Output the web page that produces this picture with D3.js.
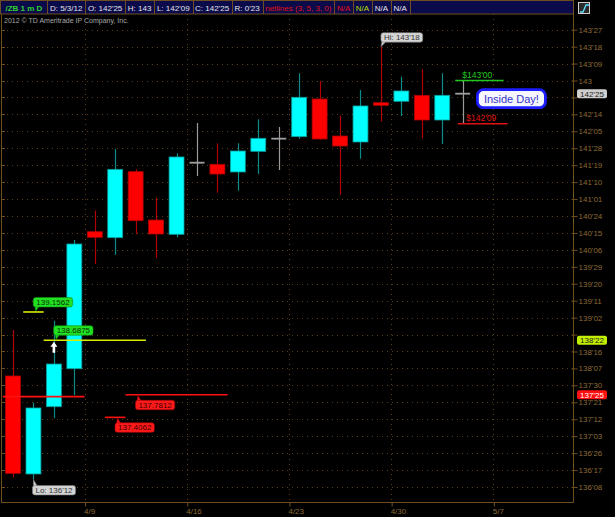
<!DOCTYPE html>
<html><head><meta charset="utf-8">
<script src="https://cdn.jsdelivr.net/npm/d3@7"></script>
<style>
body{margin:0;background:#000;overflow:hidden}
svg{display:block}
text{font-family:"Liberation Sans",Arial,sans-serif}
</style>
</head><body><svg id="c" width="615" height="517"></svg>
<script>
// ---------- DATA ----------
const dates   = ["4/3","4/4","4/5","4/6","4/9","4/10","4/11","4/12","4/13","4/16","4/17","4/18","4/19","4/20","4/23","4/24","4/25","4/26","4/27","4/30","5/1","5/2","5/3"];
const futureDates = ["5/4","5/7","5/8","5/9","5/10"];
const opens  = [138.093,136.466,137.583,138.214,140.489,140.390,141.486,140.683,140.446,141.635,141.608,141.481,141.824,142.034,142.067,142.693,142.078,141.979,142.631,142.655,142.754,142.344,142.78125];
const highs  = [138.857,137.650,139.011,140.351,140.838,141.863,141.525,141.054,141.791,142.294,141.957,141.957,142.356,142.228,143.120,142.992,142.415,142.842,143.5625,143.063,143.186,143.120,143.000];
const lows   = [136.416,136.375,137.391,137.773,139.953,140.107,140.451,140.052,140.396,141.414,141.137,141.170,141.447,141.514,142.034,142.020,141.104,141.701,142.316,142.410,142.040,141.946,142.28125];
const closes = [136.477,137.562,138.292,140.285,140.396,141.525,140.672,140.451,141.730,141.635,141.447,141.829,142.040,142.034,142.721,142.029,141.912,142.577,142.588,142.826,142.344,142.754,142.78125];

const weekTicks = ["4/9","4/16","4/23","4/30","5/7"];
const yTickLabels = ["136'08","136'17","136'26","137'03","137'12","137'21","137'30","138'07","138'16","138'25","139'02","139'11","139'20","139'29","140'06","140'15","140'24","141'01","141'10","141'19","141'28","142'05","142'14","142'23","143","143'09","143'18","143'27"];

const headerTexts  = ["/ZB 1 m D","D: 5/3/12","O: 142'25","H: 143","L: 142'09","C: 142'25","R: 0'23","netlines (3, 5, 3, 0)","N/A","N/A","N/A","N/A"];
const headerColors = ["#2fd12f","#e4e4e4","#e4e4e4","#e4e4e4","#e4e4e4","#e4e4e4","#e4e4e4","#e01010","#e01010","#b8dc00","#e4e4e4","#e4e4e4"];

// buy (green) study levels
const buyLevels = [139.1562, 138.6875];
const buyFrom   = ["4/4","4/5"];
const buyTo     = ["4/4","4/11"];
// sell (red) study levels
const sellLevels = [137.7812, 137.4062];
const sellFrom   = ["4/11","4/10"];
const sellTo     = ["4/17","4/10"];
const extraRedLevel = [137.75]; const extraRedFrom = ["4/3"]; const extraRedTo = ["4/6"];
const signalDates = ["4/5"]; const signalLevels = [138.6875];

// inside day
const insideHigh = 143.0, insideLow = 142.28125;
const insideFrom = "5/3", insideTo = "5/7";
const insideText = "Inside Day!";

// axis price markers
const markerPrices = [142.78125, 138.6875, 137.78125];
const markerFills  = ["#cfcfcf", "#c2ee00", "#ff1010"];
const markerText   = ["#222", "#222", "#fff"];

// ---------- HELPERS ----------
function fmt(p){
  const i = Math.floor(p + 1e-9);
  const t = Math.round((p - i) * 32);
  return t ? i + "'" + String(t).padStart(2, "0") : String(i);
}
function parse32(s){
  const [a,b] = s.split("'");
  return +a + (b ? +b/32 : 0);
}

const svg = d3.select("#c");
const plotL = 2, plotR = 573, plotT = 14, plotB = 502;
const gridCol = "#5a3d12", axisCol = "#6e4e1e", labelCol = "#8c6a36";

const allSlots = dates.concat(futureDates);
const x = d3.scaleBand().domain(allSlots).range([2.8, 575.1]).paddingInner(0.27).paddingOuter(0.135);
const y = d3.scaleLinear().domain([136, 144]).range([502.04, 20.28]);
const slotLeft = d => x(d) - x.step() * x.paddingInner() / 2;
const slotRight = d => slotLeft(d) + x.step();
const cx = d => x(d) + x.bandwidth() / 2;
const crisp = v => Math.round(v) + 0.5;
const yTickVals = yTickLabels.map(parse32);

svg.append("rect").attr("width", 615).attr("height", 517).attr("fill", "#000");

// ---------- GRID ----------
const grid = svg.append("g");
grid.selectAll("line.h").data(yTickVals).join("line")
  .attr("x1", plotL).attr("x2", plotR)
  .attr("y1", d => crisp(y(d))).attr("y2", d => crisp(y(d)))
  .attr("stroke", gridCol).attr("stroke-dasharray", "1,4");
grid.selectAll("line.v").data(weekTicks).join("line")
  .attr("x1", d => crisp(slotLeft(d))).attr("x2", d => crisp(slotLeft(d)))
  .attr("y1", plotT).attr("y2", plotB)
  .attr("stroke", gridCol).attr("stroke-dasharray", "1,4");

// left border with small ticks
svg.append("line").attr("x1", 1.5).attr("x2", 1.5).attr("y1", plotT).attr("y2", plotB + 0.5).attr("stroke", axisCol);
svg.append("g").selectAll("line").data(yTickVals).join("line")
  .attr("x1", 1.5).attr("x2", 5).attr("y1", d => crisp(y(d))).attr("y2", d => crisp(y(d))).attr("stroke", axisCol);

// ---------- RIGHT AXIS ----------
// labels hidden behind a price marker are not printed (as in the reference)
const hidden = v => markerPrices.some(p => Math.abs(y(p) - y(v)) < 6.5 && Math.abs(y(p) - y(v)) > 0 && y(v) < y(p) + 6.5 && !(y(v) - y(p) > 5.5));
const ra = svg.append("g").attr("transform", `translate(${plotR + 0.5},0)`)
  .call(d3.axisRight(y).tickValues(yTickVals).tickFormat(v => hidden(v) ? "" : fmt(v)).tickSize(4).tickPadding(1));
ra.select(".domain").remove();
ra.selectAll(".tick line").attr("stroke", axisCol).attr("x1", -2).attr("x2", 4);
ra.selectAll(".tick text").attr("fill", labelCol).style("font-size", "8px").style("font-family", "'Liberation Sans',Arial,sans-serif");
svg.append("line").attr("x1", plotR + 0.5).attr("x2", plotR + 0.5).attr("y1", 0).attr("y2", plotB + 0.5).attr("stroke", axisCol);

// ---------- BOTTOM AXIS ----------
const xl = d3.scaleLinear().domain([0, allSlots.length]).range([2.8, 575.1]);
const ba = svg.append("g").attr("transform", `translate(0,${plotB + 0.5})`)
  .call(d3.axisBottom(xl).tickValues(weekTicks.map(d => allSlots.indexOf(d))).tickFormat(i => allSlots[i]).tickSize(4).tickPadding(2));
ba.select(".domain").remove();
ba.selectAll(".tick line").attr("stroke", axisCol).attr("transform", "translate(0.5,0)");
ba.selectAll(".tick text").attr("fill", labelCol).attr("text-anchor", "start").attr("x", -1)
  .style("font-size", "8px").style("font-family", "'Liberation Sans',Arial,sans-serif");
svg.append("line").attr("x1", 1).attr("x2", plotR + 0.5).attr("y1", plotB + 0.5).attr("y2", plotB + 0.5).attr("stroke", axisCol);

// ---------- CANDLES ----------
const candles = dates.map((d, i) => ({d, o: opens[i], h: highs[i], l: lows[i], c: closes[i]}));
const kind = c => c.c > c.o ? "up" : (c.c < c.o ? "down" : "flat");
const wickCol = {up: "#0b8c8c", down: "#b00000", flat: "#9a9a9a"};
const bodyFill = {up: "#00ffff", down: "#ff0000"};
const bodyStroke = {up: "#0a9a9a", down: "#b00000"};
const cg = svg.append("g");
cg.selectAll("line.w").data(candles).join("line")
  .attr("x1", c => crisp(cx(c.d))).attr("x2", c => crisp(cx(c.d)))
  .attr("y1", c => y(c.h)).attr("y2", c => y(c.l))
  .attr("stroke", c => wickCol[kind(c)]).attr("stroke-width", 1.2);
cg.selectAll("rect.b").data(candles.filter(c => kind(c) !== "flat")).join("rect")
  .attr("x", c => x(c.d)).attr("width", x.bandwidth())
  .attr("y", c => y(Math.max(c.o, c.c)))
  .attr("height", c => Math.max(1.5, Math.abs(y(c.o) - y(c.c))))
  .attr("fill", c => bodyFill[kind(c)]).attr("stroke", c => bodyStroke[kind(c)]).attr("stroke-width", 0.8);
cg.selectAll("line.f").data(candles.filter(c => kind(c) === "flat")).join("line")
  .attr("x1", c => x(c.d)).attr("x2", c => x(c.d) + x.bandwidth())
  .attr("y1", c => y(c.o)).attr("y2", c => y(c.o))
  .attr("stroke", "#a0a0a0").attr("stroke-width", 1.8);

// ---------- STUDY LINES ----------
const sg = svg.append("g");
function levelLine(v, from, to, col){
  sg.append("line").attr("x1", slotLeft(from)).attr("x2", slotRight(to))
    .attr("y1", y(v)).attr("y2", y(v)).attr("stroke", col).attr("stroke-width", 1.6);
}
function tag(g, bx, by, text, fill, stroke, tcol, tip){
  const t = g.append("text").attr("x", bx + 3).attr("y", by + 7.3).text(text)
    .attr("fill", tcol).style("font-size", "8px");
  const w = t.node().getComputedTextLength() + 6;
  if (tip){
    g.insert("path", "text").attr("d", `M${tip[0]},${tip[1]}L${tip[2]},${tip[3]}L${tip[4]},${tip[5]}Z`)
      .attr("fill", fill).attr("stroke", stroke).attr("stroke-width", 0.6);
  }
  g.insert("rect", "text").attr("x", bx).attr("y", by).attr("width", w).attr("height", 9.5).attr("rx", 2.5)
    .attr("fill", fill).attr("stroke", stroke).attr("stroke-width", 0.6);
  t.raise();
}
buyLevels.forEach((v, i) => {
  levelLine(v, buyFrom[i], buyTo[i], "#d8ec00");
  const lx = slotLeft(buyFrom[i]), ly = y(v);
  const bx = lx + 10, by = ly - 14.5;
  tag(sg.append("g"), bx, by, String(v), "#22e022", "#109010", "#053005",
      [bx + 1.5, by + 8.5, bx + 6, by + 8.5, bx + 2.5, ly - 1]);
});
extraRedLevel.forEach((v, i) => levelLine(v, extraRedFrom[i], extraRedTo[i], "#ff1010"));
sellLevels.forEach((v, i) => {
  levelLine(v, sellFrom[i], sellTo[i], "#ff1010");
  const lx = slotLeft(sellFrom[i]), ly = y(v);
  const bx = lx + 10, by = ly + 5.5;
  tag(sg.append("g"), bx, by, String(v), "#ff1a1a", "#a00000", "#3a0000",
      [bx + 1.5, by + 1, bx + 6, by + 1, bx + 2.5, ly + 1]);
});
// signal arrow
signalDates.forEach((d, i) => {
  const ax = cx(d), top = y(signalLevels[i]) + 1.5;
  sg.append("path")
    .attr("d", `M${ax},${top}L${ax + 3.5},${top + 5}L${ax + 1.3},${top + 5}L${ax + 1.3},${top + 11}L${ax - 1.3},${top + 11}L${ax - 1.3},${top + 5}L${ax - 3.5},${top + 5}Z`)
    .attr("fill", "#fff");
});

// ---------- HI / LO ----------
const hiIdx = d3.maxIndex(highs), loIdx = d3.minIndex(lows);
{
  const hx = cx(dates[hiIdx]), hy = y(highs[hiIdx]);
  const g = svg.append("g");
  tag(g, hx, hy - 14, "Hi: " + fmt(highs[hiIdx]), "#d4d4d4", "#777", "#333",
      [hx + 1, hy - 5, hx + 5, hy - 5, hx, hy]);
  const lx = cx(dates[loIdx]), ly = y(lows[loIdx]);
  const g2 = svg.append("g");
  tag(g2, lx - 1, ly + 6, "Lo: " + fmt(lows[loIdx]), "#d4d4d4", "#777", "#333",
      [lx, ly + 7, lx + 4, ly + 7, lx, ly]);
}

// ---------- INSIDE DAY ----------
{
  const g = svg.append("g");
  const x1 = x(insideFrom), x2 = cx(insideTo);
  const hiTxt = fmt(insideHigh).includes("'") ? fmt(insideHigh) : fmt(insideHigh) + "'00";
  g.append("line").attr("x1", x1).attr("x2", x2).attr("y1", y(insideHigh)).attr("y2", y(insideHigh)).attr("stroke", "#1ec81e").attr("stroke-width", 1.6);
  g.append("line").attr("x1", x1 + 2.5).attr("x2", x2 + 4).attr("y1", y(insideLow)).attr("y2", y(insideLow)).attr("stroke", "#e01010").attr("stroke-width", 1.6);
  g.append("text").attr("x", x1 + 7).attr("y", y(insideHigh) - 3).text("$" + hiTxt)
    .attr("fill", "#22cc22").style("font-size", "8.5px");
  g.append("text").attr("x", x1 + 11).attr("y", y(insideLow) - 3).text("$" + fmt(insideLow))
    .attr("fill", "#e01010").style("font-size", "8.5px");
  const last = closes[closes.length - 1];
  const bx = slotRight(insideFrom) + 4.5, byc = y(last) + 5;
  const t = g.append("text").attr("x", bx + 34).attr("y", byc + 4).attr("text-anchor", "middle")
    .text(insideText).attr("fill", "#3434c8").style("font-size", "11px");
  const w = t.node().getComputedTextLength() + 13;
  g.insert("rect", "text").attr("x", bx + 34 - w / 2).attr("y", byc - 9).attr("width", w).attr("height", 18).attr("rx", 6)
    .attr("fill", "#f6f6ff").attr("stroke", "#1c1cff").attr("stroke-width", 2.8);
  t.raise();
}

// ---------- AXIS PRICE MARKERS ----------
const mg = svg.append("g");
markerPrices.forEach((p, i) => {
  const my = y(p);
  mg.append("rect").attr("x", 577).attr("y", my - 4.5).attr("width", 30).attr("height", 9).attr("rx", 2)
    .attr("fill", markerFills[i]);
  mg.append("text").attr("x", 592).attr("y", my + 3).attr("text-anchor", "middle").text(fmt(p))
    .attr("fill", markerText[i]).style("font-size", "8px");
});

// ---------- HEADER ----------
const hg = svg.append("g");
hg.append("rect").attr("x", 0.5).attr("y", 0.5).attr("width", plotR).attr("height", 13.5)
  .attr("fill", "#0b0b4c").attr("stroke", axisCol);
let hx = 0.5;
headerTexts.forEach((s, i) => {
  const padL = i === 0 ? 5 : 2.5;
  const t = hg.append("text").attr("x", hx + padL).attr("y", 10.5).text(s)
    .attr("fill", headerColors[i]).style("font-size", "8px").style("font-weight", i === 0 ? "bold" : "normal");
  const w = t.node().getComputedTextLength() + padL + (i === 0 ? 5 : 3);
  hx += w;
  hg.append("line").attr("x1", Math.round(hx) + 0.5).attr("x2", Math.round(hx) + 0.5).attr("y1", 0.5).attr("y2", 14)
    .attr("stroke", axisCol);
});
// icon
hg.append("rect").attr("x", 578.5).attr("y", 2.5).attr("width", 11).attr("height", 11).attr("fill", "#2a2a2a").attr("stroke", "#cfcfcf");
hg.append("path").attr("d", "M580,12 L583,12 L586,5 L589,5").attr("fill", "none").attr("stroke", "#60e0ff").attr("stroke-width", 1.3);

svg.append("text").attr("x", 4).attr("y", 23).text("2012 © TD Ameritrade IP Company, Inc.")
  .attr("fill", "#a8a8a8").style("font-size", "7px");
</script>
</body></html>
